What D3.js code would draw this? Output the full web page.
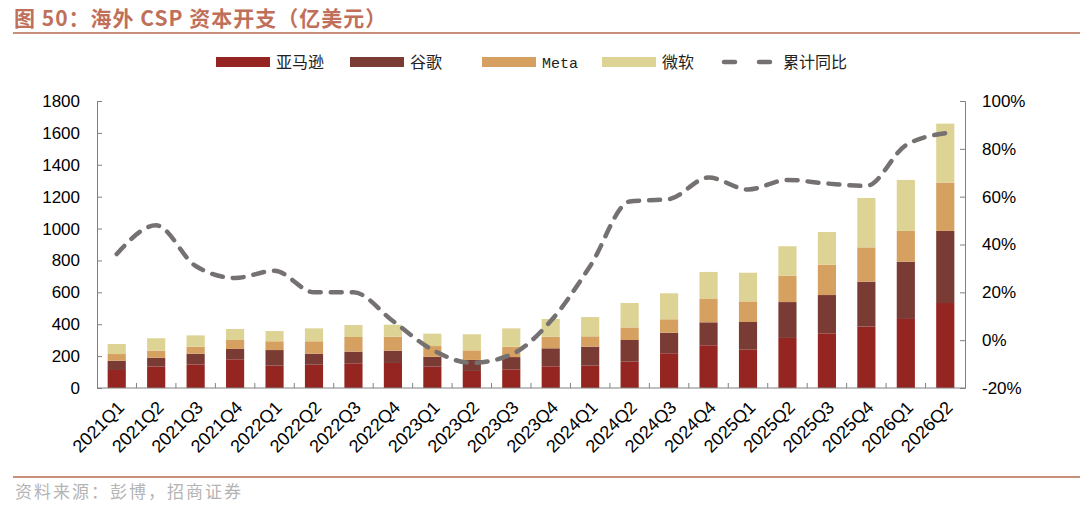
<!DOCTYPE html>
<html>
<head>
<meta charset="utf-8">
<script src="https://cdn.jsdelivr.net/npm/d3@7"></script>
<style>
  body { margin: 0; background: #fff; }
  svg { display: block; font-family: "Liberation Sans", Arial, sans-serif; }
</style>
</head>
<body>
<div id="chart"></div>
<script>
// categories and series (亿美元)
var quarters = ["2021Q1","2021Q2","2021Q3","2021Q4","2022Q1","2022Q2","2022Q3","2022Q4",
                "2023Q1","2023Q2","2023Q3","2023Q4","2024Q1","2024Q2","2024Q3","2024Q4",
                "2025Q1","2025Q2","2025Q3","2025Q4","2026Q1","2026Q2"];
var amazon    = [113,134,148,180,140,146,155,157,134,107,117,136,140,165,218,268,240,314,343,385,433,533];
var google    = [ 58, 56, 67, 65, 98, 69, 73, 77, 62, 69, 77,113,119,136,129,144,174,225,240,282,359,452];
var meta      = [ 42, 44, 44, 56, 55, 78, 92, 88, 67, 60, 65, 73, 65, 79, 84,146,129,165,190,215,193,303];
var microsoft = [ 63, 78, 71, 69, 64, 81, 75, 75, 78,101,115,111,121,153,163,170,180,185,205,310,320,370];
// 累计同比 (%)
var yoy = [36,48,31,26,29,20,20,8,-4,-9.5,-6,8,31,58,59,68,63,67,65.5,64.5,81.5,86.5];

var leftTicks = [0,200,400,600,800,1000,1200,1400,1600,1800];
var rightTicks = [-20,0,20,40,60,80,100];

var seriesNames = ["亚马逊","谷歌","Meta","微软"];
var seriesKeys = ["amazon","google","meta","microsoft"];
var colors = ["#952520","#7a3b35","#d6a060","#ddd395"];
var lineColor = "#767171";

var W = 1080, H = 511;
var margin = {top: 101, right: 115, bottom: 123, left: 97};
var width = W - margin.left - margin.right,
    height = H - margin.top - margin.bottom;

var svg = d3.select("#chart").append("svg")
    .attr("width", W).attr("height", H);

// title + rules
svg.append("text")
    .attr("x", 14).attr("y", 26)
    .attr("fill", "#c0705a")
    .style("font-size", "21px").style("font-weight", "bold")
    .style("letter-spacing", "1px")
    .style("font-family", "'Noto Sans CJK SC', 'Liberation Sans', sans-serif")
    .text("图 50：海外 CSP 资本开支（亿美元）");
svg.append("line").attr("x1", 13).attr("x2", W).attr("y1", 33).attr("y2", 33)
    .attr("stroke", "#c8907a").attr("stroke-width", 2);
svg.append("line").attr("x1", 13).attr("x2", W).attr("y1", 477).attr("y2", 477)
    .attr("stroke", "#c8907a").attr("stroke-width", 2);
svg.append("text")
    .attr("x", 15).attr("y", 498)
    .attr("fill", "#b4b4b4")
    .style("font-size", "17px")
    .style("letter-spacing", "2px")
    .style("font-family", "'Noto Sans CJK SC', sans-serif")
    .text("资料来源：彭博，招商证券");

var data = quarters.map(function (q, i) {
    return {q: q, amazon: amazon[i], google: google[i], meta: meta[i], microsoft: microsoft[i]};
});

var x = d3.scaleBand().domain(quarters).range([0, width]).paddingInner(0.54).paddingOuter(0.27);
var y = d3.scaleLinear().domain([0, 1800]).range([height, 0]);
var y2 = d3.scaleLinear().domain([-20, 100]).range([height, 0]);

var g = svg.append("g").attr("transform", "translate(" + margin.left + "," + margin.top + ")");

// bars
var stack = d3.stack().keys(seriesKeys)(data);
g.selectAll(".layer")
    .data(stack)
    .enter().append("g")
    .attr("fill", function (d, i) { return colors[i]; })
    .selectAll("rect")
    .data(function (d) { return d; })
    .enter().append("rect")
    .attr("x", function (d) { return x(d.data.q); })
    .attr("y", function (d) { return y(d[1]); })
    .attr("width", x.bandwidth())
    .attr("height", function (d) { return y(d[0]) - y(d[1]); });

// axes
var axisStyle = function (sel) {
    sel.select(".domain").attr("stroke", "#808080");
    sel.selectAll(".tick line").attr("stroke", "#808080");
    sel.selectAll("text").attr("fill", "#000").style("font-size", "17px")
        .style("font-family", "'Liberation Sans', Arial, sans-serif");
};

g.append("g")
    .call(d3.axisLeft(y).tickValues(leftTicks).tickSizeInner(-5).tickSizeOuter(-5).tickPadding(17)
        .tickFormat(d3.format("d")))
    .call(axisStyle);

g.append("g")
    .attr("transform", "translate(" + width + ",0)")
    .call(d3.axisRight(y2).tickValues(rightTicks).tickSizeInner(-5).tickSizeOuter(-5).tickPadding(17)
        .tickFormat(function (d) { return d + "%"; }))
    .call(axisStyle);

// x axis with ticks at band boundaries
var xa = g.append("g").attr("transform", "translate(0," + height + ")");
xa.append("line").attr("x1", 0).attr("x2", width).attr("stroke", "#808080");
xa.selectAll(".bt")
    .data(quarters.slice(1))
    .enter().append("line")
    .attr("x1", function (d) { return x(d) - x.step() * x.paddingInner() / 2; })
    .attr("x2", function (d) { return x(d) - x.step() * x.paddingInner() / 2; })
    .attr("y1", 0).attr("y2", -5)
    .attr("stroke", "#808080");
xa.selectAll(".xl")
    .data(quarters)
    .enter().append("text")
    .attr("transform", function (d) {
        return "translate(" + (x(d) + x.bandwidth() / 2 - 1) + ",11) rotate(-45)";
    })
    .attr("text-anchor", "end")
    .attr("dy", "0.75em")
    .style("font-size", "18px")
    .text(function (d) { return d; });

// yoy line
var line = d3.line()
    .x(function (d, i) { return x(quarters[i]) + x.bandwidth() / 2; })
    .y(function (d) { return y2(d); })
    .curve(d3.curveMonotoneX);
g.append("path")
    .datum(yoy)
    .attr("d", line)
    .attr("fill", "none")
    .attr("stroke", lineColor)
    .attr("stroke-width", 4.5)
    .attr("stroke-linecap", "round")
    .attr("stroke-dasharray", "11,10");

// legend
var legend = svg.append("g").attr("transform", "translate(0,62)");
var legX = [216, 350, 482, 602];
seriesNames.forEach(function (name, i) {
    legend.append("rect").attr("x", legX[i]).attr("y", -5).attr("width", 54).attr("height", 10)
        .attr("fill", colors[i]);
    legend.append("text").attr("x", legX[i] + 60).attr("y", 6)
        .style("font-size", name === "Meta" ? "15px" : "16px")
        .style("font-family", name === "Meta" ? "'Liberation Mono', monospace" : "'Noto Sans CJK SC', sans-serif")
        .attr("fill", "#222")
        .text(name);
});
legend.append("line").attr("x1", 724).attr("x2", 770).attr("y1", 0).attr("y2", 0)
    .attr("stroke", lineColor).attr("stroke-width", 4.5)
    .attr("stroke-linecap", "round").attr("stroke-dasharray", "11,24");
legend.append("text").attr("x", 783).attr("y", 6)
    .style("font-size", "16px")
    .style("font-family", "'Noto Sans CJK SC', sans-serif")
    .attr("fill", "#222")
    .text("累计同比");
</script>
</body>
</html>
